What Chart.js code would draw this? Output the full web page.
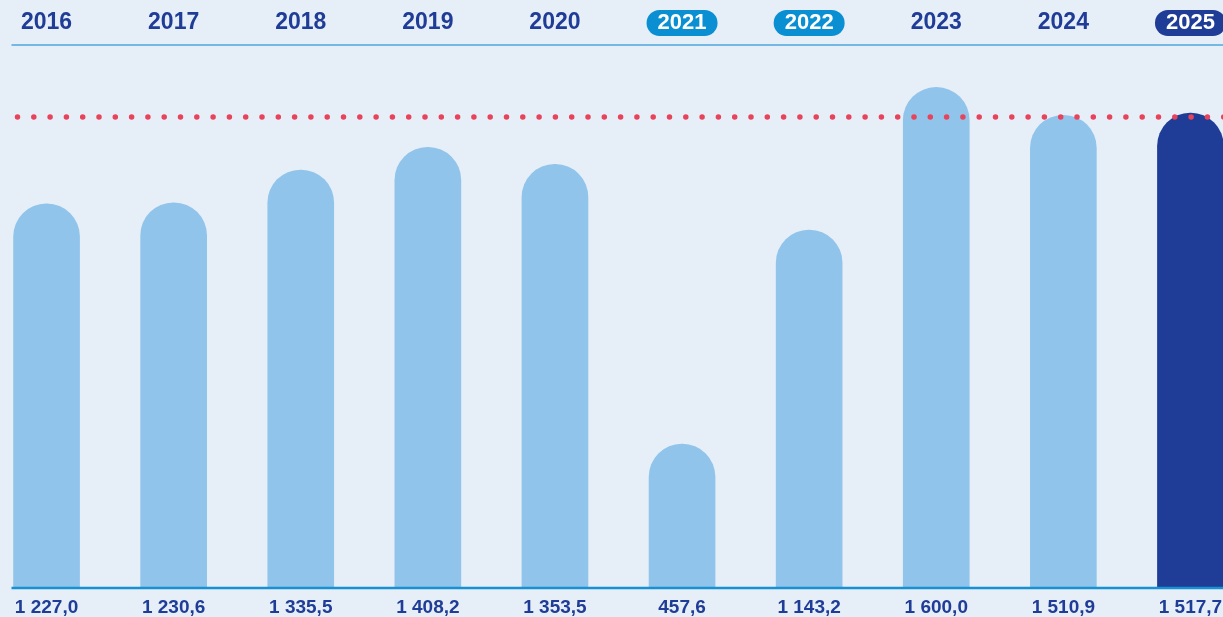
<!DOCTYPE html>
<html>
<head>
<meta charset="utf-8">
<script src="https://cdn.jsdelivr.net/npm/chart.js@4.4.1/dist/chart.umd.min.js"></script>
<style>
  html, body { margin: 0; padding: 0; background: #e6eef8; overflow: hidden; width: 1223px; height: 617px; }
  #wrap { position: absolute; left: -17.5px; top: 0; width: 1271px; height: 617px; }
</style>
</head>
<body>
<div id="wrap"><canvas id="myChart" width="1271" height="617"></canvas></div>
<script>
// data
const years = ['2016', '2017', '2018', '2019', '2020', '2021', '2022', '2023', '2024', '2025'];
const values = [1227.0, 1230.6, 1335.5, 1408.2, 1353.5, 457.6, 1143.2, 1600.0, 1510.9, 1517.7];
const valueLabels = ['1 227,0', '1 230,6', '1 335,5', '1 408,2', '1 353,5', '457,6', '1 143,2', '1 600,0', '1 510,9', '1 517,7'];
const targetValue = 1505;
// years shown in a pill, with the pill colour
const pillYears = { '2021': '#0a8fd3', '2022': '#0a8fd3', '2025': '#1f3c96' };

const navy = '#1f3c96';
const lightBar = '#90c4ea';

const barColors = years.map(y => y === '2025' ? navy : lightBar);

function roundRect(ctx, x, y, w, h, r) {
    ctx.beginPath();
    ctx.moveTo(x + r, y);
    ctx.lineTo(x + w - r, y);
    ctx.arc(x + w - r, y + r, r, -Math.PI / 2, Math.PI / 2);
    ctx.lineTo(x + r, y + h);
    ctx.arc(x + r, y + r, r, Math.PI / 2, Math.PI * 1.5);
    ctx.closePath();
}

// Labels, top rule, baseline and the dotted target line
const decorPlugin = {
    id: 'decor',
    afterDatasetsDraw(chart) {
        const ctx = chart.ctx;
        const xs = chart.scales.x;
        const ys = chart.scales.y;
        const left = 28.5;
        const right = chart.width;

        ctx.save();
        // top rule
        ctx.strokeStyle = '#74b8e6';
        ctx.lineWidth = 2;
        ctx.beginPath();
        ctx.moveTo(left, 45);
        ctx.lineTo(right, 45);
        ctx.stroke();

        // baseline
        const y0 = ys.getPixelForValue(0);
        ctx.strokeStyle = '#1790d4';
        ctx.lineWidth = 2.5;
        ctx.beginPath();
        ctx.moveTo(left, y0 + 1);
        ctx.lineTo(right, y0 + 1);
        ctx.stroke();

        // dotted target line
        const ty = ys.getPixelForValue(targetValue);
        ctx.strokeStyle = '#e8435b';
        ctx.lineWidth = 5.5;
        ctx.lineCap = 'round';
        ctx.setLineDash([0, 16.3]);
        ctx.beginPath();
        ctx.moveTo(left + 6, ty);
        ctx.lineTo(right, ty);
        ctx.stroke();
        ctx.setLineDash([]);

        // year labels
        ctx.textAlign = 'center';
        ctx.textBaseline = 'middle';
        years.forEach((yr, i) => {
            const x = xs.getPixelForValue(i);
            ctx.font = 'bold 23px "Liberation Sans", Arial, sans-serif';
            if (pillYears[yr]) {
                ctx.fillStyle = pillYears[yr];
                roundRect(ctx, x - 35.5, 10, 71, 26, 13);
                ctx.fill();
                ctx.fillStyle = '#ffffff';
                ctx.font = 'bold 22px "Liberation Sans", Arial, sans-serif';
            } else {
                ctx.fillStyle = navy;
            }
            ctx.fillText(yr, x, 23);

            // value labels under the bars
            ctx.font = 'bold 19px "Liberation Sans", Arial, sans-serif';
            ctx.fillStyle = navy;
            ctx.fillText(valueLabels[i], x, 607.5);
        });
        ctx.restore();
    }
};

const myChart = new Chart(document.getElementById('myChart'), {
    type: 'bar',
    data: {
        labels: years,
        datasets: [{
            data: values,
            backgroundColor: barColors,
            barThickness: 66,
            borderRadius: { topLeft: 33, topRight: 33, bottomLeft: 0, bottomRight: 0 },
            borderSkipped: false
        }]
    },
    options: {
        responsive: false,
        animation: false,
        devicePixelRatio: 1,
        layout: { padding: { top: 25, bottom: 30, left: 0, right: 0 } },
        plugins: {
            legend: { display: false },
            tooltip: { enabled: false }
        },
        scales: {
            x: { display: false },
            y: { display: false, min: 0, max: 1800 }
        }
    },
    plugins: [decorPlugin]
});
</script>
</body>
</html>
